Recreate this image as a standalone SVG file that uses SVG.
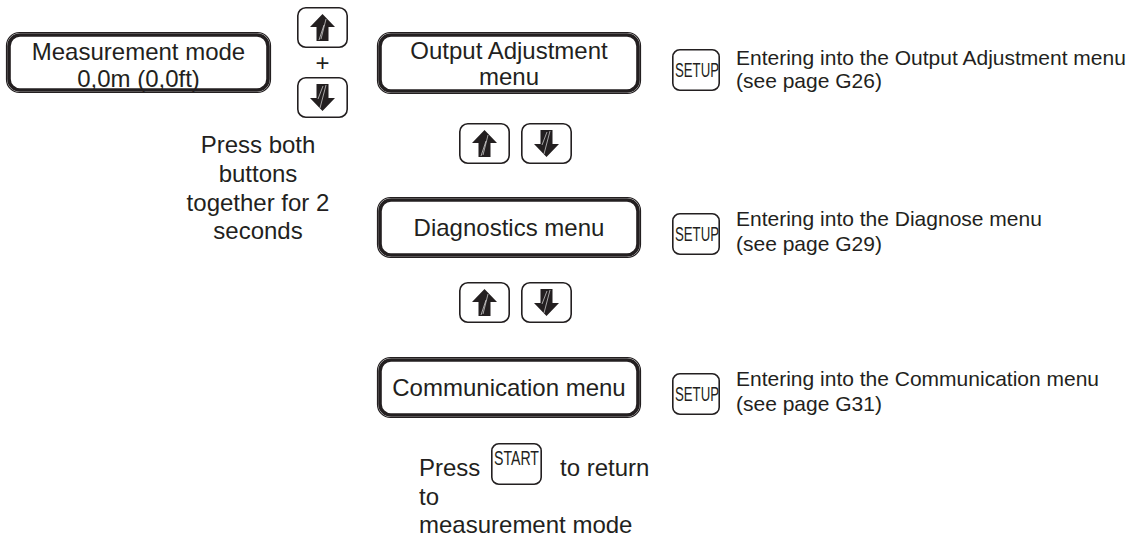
<svg xmlns="http://www.w3.org/2000/svg" xmlns:xlink="http://www.w3.org/1999/xlink" width="1144" height="537" viewBox="0 0 1144 537">
<style>
  .lbl { font-family: "Liberation Sans", Arial, sans-serif; font-size: 24px; fill: #231f20; }
  .desc { font-family: "Liberation Sans", Arial, sans-serif; font-size: 21px; fill: #231f20; }
  .key { font-family: "Liberation Sans", Arial, sans-serif; font-size: 20px; fill: #231f20; }
  .boxo { fill: none; stroke: #231f20; stroke-width: 1.2; }
  .boxi { fill: #fff; stroke: #231f20; stroke-width: 3.6; }
  .btn { fill: #fff; stroke: #231f20; stroke-width: 1.6; }
  .arr { fill: #231f20; }
  .hl { stroke: #fff; stroke-width: 0.6; fill: none; }
</style>
<defs>
  <g id="upkey">
    <rect class="btn" x="0.8" y="0.8" width="49.4" height="39.4" rx="8"/>
    <path class="arr" d="M25.5,7 L38,20 L31.5,20 L31.5,34 L19.5,34 L19.5,20 L13,20 Z"/>
    <path class="hl" d="M29,12 L24,32 M27,18 L22,33"/>
  </g>
  <g id="downkey">
    <rect class="btn" x="0.8" y="0.8" width="49.4" height="39.4" rx="8"/>
    <path class="arr" d="M25.5,34 L38,21 L31.5,21 L31.5,7 L19.5,7 L19.5,21 L13,21 Z"/>
    <path class="hl" d="M29,8 L23,31 M26,9 L21,22"/>
  </g>
  <g id="setupkey">
    <rect class="btn" x="0.8" y="0.8" width="46.4" height="40.4" rx="7"/>
    <text class="key" x="3" y="28" textLength="44" lengthAdjust="spacingAndGlyphs">SETUP</text>
  </g>
</defs>

<g id="connectors"></g>

<g id="node-measurement">
  <rect class="boxo" x="6.5" y="32.5" width="264" height="60" rx="13"/>
  <rect class="boxi" x="9" y="35" width="259" height="55" rx="11"/>
  <text class="lbl" x="138.5" y="60" text-anchor="middle">Measurement mode</text>
  <text class="lbl" x="138.5" y="87" text-anchor="middle">0,0m (0,0ft)</text>
</g>

<g id="keys-both">
  <use xlink:href="#upkey" x="297" y="7"/>
  <text class="lbl" x="322.5" y="71" text-anchor="middle">+</text>
  <use xlink:href="#downkey" x="297" y="77"/>
</g>

<g id="note-both">
  <text class="lbl" x="258" y="153" text-anchor="middle">Press both</text>
  <text class="lbl" x="258" y="182" text-anchor="middle">buttons</text>
  <text class="lbl" x="258" y="211" text-anchor="middle">together for 2</text>
  <text class="lbl" x="258" y="239" text-anchor="middle">seconds</text>
</g>

<g id="node-output">
  <rect class="boxo" x="377.5" y="32.5" width="263" height="61" rx="13"/>
  <rect class="boxi" x="380" y="35" width="258" height="56" rx="11"/>
  <text class="lbl" x="509" y="59" text-anchor="middle">Output Adjustment</text>
  <text class="lbl" x="509" y="85" text-anchor="middle">menu</text>
</g>
<g id="setup-output">
  <use xlink:href="#setupkey" x="672" y="49"/>
  <text class="desc" x="736" y="65">Entering into the Output Adjustment menu</text>
  <text class="desc" x="736" y="88">(see page G26)</text>
</g>

<g id="keys-row1">
  <use xlink:href="#upkey" x="459" y="123"/>
  <use xlink:href="#downkey" x="521" y="123"/>
</g>

<g id="node-diagnostics">
  <rect class="boxo" x="377.5" y="197.5" width="263" height="60" rx="13"/>
  <rect class="boxi" x="380" y="200" width="258" height="55" rx="11"/>
  <text class="lbl" x="509" y="236" text-anchor="middle">Diagnostics menu</text>
</g>
<g id="setup-diagnostics">
  <use xlink:href="#setupkey" x="672" y="213"/>
  <text class="desc" x="736" y="226">Entering into the Diagnose menu</text>
  <text class="desc" x="736" y="251">(see page G29)</text>
</g>

<g id="keys-row2">
  <use xlink:href="#upkey" x="459" y="282"/>
  <use xlink:href="#downkey" x="521" y="282"/>
</g>

<g id="node-communication">
  <rect class="boxo" x="377.5" y="357.5" width="263" height="60" rx="13"/>
  <rect class="boxi" x="380" y="360" width="258" height="55" rx="11"/>
  <text class="lbl" x="509" y="396" text-anchor="middle">Communication menu</text>
</g>
<g id="setup-communication">
  <use xlink:href="#setupkey" x="672" y="373"/>
  <text class="desc" x="736" y="386">Entering into the Communication menu</text>
  <text class="desc" x="736" y="411">(see page G31)</text>
</g>

<g id="note-start">
  <text class="lbl" x="419" y="476">Press</text>
  <rect class="btn" x="491.8" y="443.8" width="49.4" height="40.4" rx="7"/>
  <text class="key" x="494" y="465" textLength="45" lengthAdjust="spacingAndGlyphs">START</text>
  <text class="lbl" x="560" y="476">to return</text>
  <text class="lbl" x="419" y="505">to</text>
  <text class="lbl" x="419" y="533">measurement mode</text>
</g>
</svg>
